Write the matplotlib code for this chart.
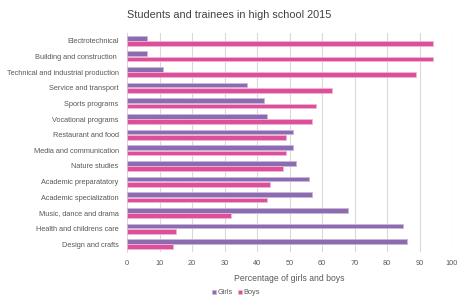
import numpy as np
import matplotlib
matplotlib.use("Agg")
import matplotlib.pyplot as plt

categories = ["Electrotechnical", "Building and construction ", "Technical and industrial production",
              "Service and transport", "Sports programs", "Vocational programs", "Restaurant and food",
              "Media and communication", "Nature studies", "Academic preparatatory",
              "Academic specialization", "Music, dance and drama", "Health and childrens care",
              "Design and crafts"]
girls = [6, 6, 11, 37, 42, 43, 51, 51, 52, 56, 57, 68, 85, 86]
boys = [94, 94, 89, 63, 58, 57, 49, 49, 48, 44, 43, 32, 15, 14]
xticks = list(range(0, 101, 10))

c_girls = "#8d6bb1"
c_boys = "#dc4f9a"

plt.rcParams['font.family'] = ['Liberation Sans', 'DejaVu Sans']

fig = plt.figure(figsize=(4.58, 2.99), dpi=100)
ax = fig.add_axes([127/458, 1 - 252/299, (452-127)/458, (252-33)/299])

y = np.arange(len(categories))
h = 0.3
ax.barh(y - h/2 - 0.02, girls, height=h, color=c_girls, edgecolor="#c9b6db", linewidth=0.6, label="Girls", zorder=3)
ax.barh(y + h/2 + 0.02, boys, height=h, color=c_boys, edgecolor="#f0b5d4", linewidth=0.6, label="Boys", zorder=3)

ax.set_ylim(len(categories) - 0.5, -0.5)
ax.set_xlim(0, 100)
ax.set_xticks(xticks)
ax.set_yticks(y)
ax.set_yticklabels(categories)
ax.tick_params(axis="both", length=0, labelsize=5.3, colors="#595959")
ax.tick_params(axis="x", pad=6)
ax.tick_params(axis="y", pad=6)
ax.grid(axis="x", color="#d9d9d9", linewidth=0.8, zorder=0)
for s in ["top", "right", "bottom"]:
    ax.spines[s].set_visible(False)
ax.spines["left"].set_color("#d9d9d9")
ax.spines["left"].set_linewidth(0.8)

ax.set_xlabel("Percentage of girls and boys", fontsize=6.2, color="#595959", labelpad=5)
fig.text(0.5, 1 - 15/299, "Students and trainees in high school 2015", ha="center", va="center",
         fontsize=7.8, color="#404040")

leg = fig.legend(loc="center", bbox_to_anchor=(236/458, 1 - 293/299), ncol=2, frameon=False,
                 fontsize=5.3, handlelength=0.6, handleheight=0.6, handletextpad=0.2, columnspacing=0.6)
for t in leg.get_texts():
    t.set_color("#595959")

fig.savefig("out.png", dpi=100)
